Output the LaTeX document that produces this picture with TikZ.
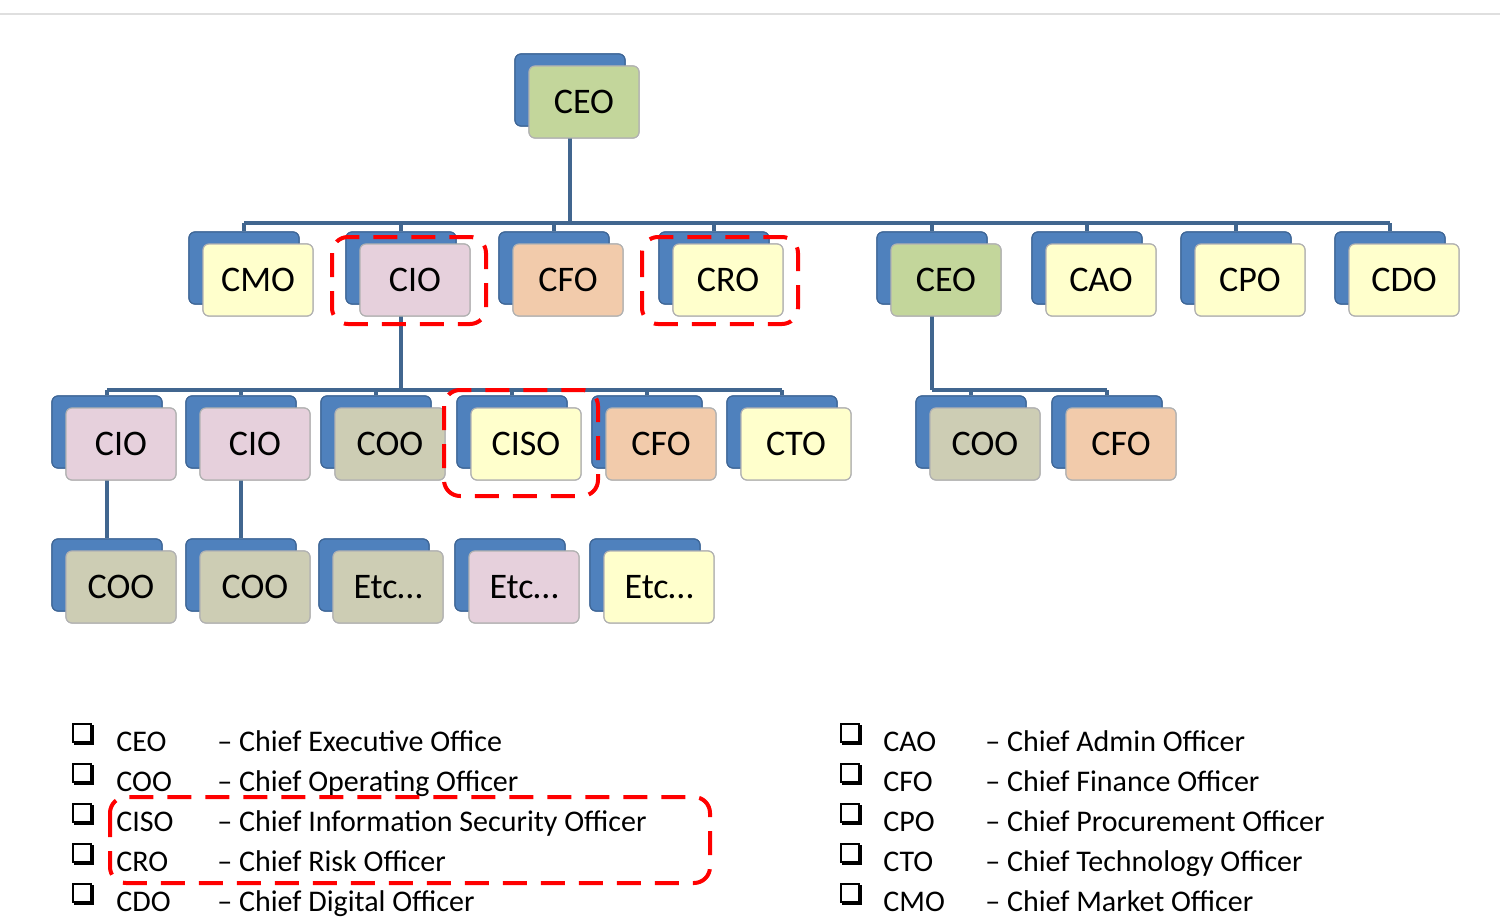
\documentclass[tikz,border=0pt]{standalone}
\usepackage{fontspec}
\setmainfont{Carlito}
\usetikzlibrary{calc,shadows}
\definecolor{bk}{HTML}{4F81BD}
\definecolor{cg}{HTML}{C3D69B}
\definecolor{cp}{HTML}{E6D0DC}
\definecolor{cs}{HTML}{F2CBAB}
\definecolor{cy}{HTML}{FFFFCC}
\definecolor{cc}{HTML}{CDCDB4}
\definecolor{ln}{HTML}{41668F}
\begin{document}
\begin{tikzpicture}[x=0.5pt,y=-0.5pt,
  ob/.style={draw=gray!60,line width=0.6pt,rounded corners=3pt,minimum width=55pt,minimum height=36pt,
    font=\fontsize{18}{20}\selectfont,
    copy shadow={shadow xshift=-7pt,shadow yshift=6pt,fill=bk,draw=bk!80!black}},
  cn/.style={draw=ln,line width=1.6pt},
  red/.style={draw=red,line width=2pt,dash pattern=on 12pt off 7pt,rounded corners=8pt},
  lg/.style={anchor=base west,font=\fontsize{15}{17}\selectfont,inner sep=0pt},
  cb/.style={draw=black,line width=1pt,minimum size=9pt,inner sep=0pt,fill=white,
    copy shadow={shadow xshift=1.2pt,shadow yshift=-1.2pt,fill=black,draw=black}}]
\useasboundingbox (0,0) rectangle (1500,920);
\draw[gray!25,line width=0.6pt] (0,14) -- (1500,14);
% nodes
\node[ob,fill=cg] (ceo) at (584,102) {CEO};
\foreach \n/\x/\t/\c in {a/258/CMO/cy,b/415/CIO/cp,c/568/CFO/cs,d/728/CRO/cy,e/946/CEO/cg,f/1101/CAO/cy,g/1250/CPO/cy,h/1404/CDO/cy}
  \node[ob,fill=\c] (r1\n) at (\x,280) {\t};
\foreach \n/\x/\t/\c in {a/121/CIO/cp,b/255/CIO/cp,c/390/COO/cc,d/526/CISO/cy,e/661/CFO/cs,f/796/CTO/cy,g/985/COO/cc,h/1121/CFO/cs}
  \node[ob,fill=\c] (r2\n) at (\x,444) {\t};
\foreach \n/\x/\t/\c in {a/121/COO/cc,b/255/COO/cc,c/388/Etc…/cc,d/524/Etc…/cp,e/659/Etc…/cy}
  \node[ob,fill=\c] (r3\n) at (\x,587) {\t};
% connectors
\coordinate (bar1) at (0,223);
\coordinate (bar2) at (0,390);
\coordinate (ceoB) at ($(ceo.south)+(-7pt,6pt)$);
\draw[cn] (ceoB) -- (ceoB |- bar1);
\foreach \n in {a,b,c,d,e,f,g,h}{
  \coordinate (t1\n) at ($(r1\n.north)+(-7pt,6pt)$);
  \draw[cn] (t1\n) -- (t1\n |- bar1);}
\draw[cn] (t1a |- bar1) -- (t1h |- bar1);
\coordinate (bB) at ($(r1b.south)+(-7pt,6pt)$);
\draw[cn] (bB) -- (bB |- bar2);
\foreach \n in {a,b,c,d,e,f}{
  \coordinate (t2\n) at ($(r2\n.north)+(-7pt,6pt)$);
  \draw[cn] (t2\n) -- (t2\n |- bar2);}
\draw[cn] (t2a |- bar2) -- (t2f |- bar2);
\coordinate (eB) at ($(r1e.south)+(-7pt,6pt)$);
\draw[cn] (eB) -- (eB |- bar2);
\foreach \n in {g,h}{
  \coordinate (t2\n) at ($(r2\n.north)+(-7pt,6pt)$);
  \draw[cn] (t2\n) -- (t2\n |- bar2);}
\draw[cn] (eB |- bar2) -- (t2h |- bar2);
\foreach \n in {a,b}{
  \coordinate (s2\n) at ($(r2\n.south)+(-7pt,6pt)$);
  \coordinate (t3\n) at ($(r3\n.north)+(-7pt,6pt)$);
  \draw[cn] (s2\n) -- (t3\n);}
% redraw nodes on top of connectors
\node[ob,fill=cg] at (ceo) {CEO};
\foreach \n/\t/\c in {a/CMO/cy,b/CIO/cp,c/CFO/cs,d/CRO/cy,e/CEO/cg,f/CAO/cy,g/CPO/cy,h/CDO/cy}
  \node[ob,fill=\c] at (r1\n) {\t};
\foreach \n/\t/\c in {a/CIO/cp,b/CIO/cp,c/COO/cc,d/CISO/cy,e/CFO/cs,f/CTO/cy,g/COO/cc,h/CFO/cs}
  \node[ob,fill=\c] at (r2\n) {\t};
\foreach \n/\t/\c in {a/COO/cc,b/COO/cc,c/Etc…/cc,d/Etc…/cp,e/Etc…/cy}
  \node[ob,fill=\c] at (r3\n) {\t};
% red highlights
\draw[red] (332,237) rectangle (486,324);
\draw[red] (642,237) rectangle (798,324);
\draw[red] (444,390) rectangle (598,496);
% legend
\foreach \i/\a/\d in {0/CEO/Chief Executive  Office,1/COO/Chief Operating Officer,2/CISO/Chief Information Security Officer,3/CRO/Chief Risk Officer,4/CDO/Chief Digital Officer}{
  \node[cb] (lc\i) at (82,{741+40*\i-8}) {};
  \node[lg] (la\i) at (116,{741+40*\i+10}) {\a};
  \node[lg] (ld\i) at (217,{741+40*\i+10}) {– \d};}
\foreach \i/\a/\d in {0/CAO/Chief Admin Officer,1/CFO/Chief Finance Officer,2/CPO/Chief Procurement Officer,3/CTO/Chief Technology Officer,4/CMO/Chief Market Officer}{
  \node[cb] (rc\i) at (850,{741+40*\i-8}) {};
  \node[lg] (ra\i) at (883,{741+40*\i+10}) {\a};
  \node[lg] (rd\i) at (985,{741+40*\i+10}) {– \d};}
\draw[red] (110,797) rectangle (710,883);
\end{tikzpicture}
\end{document}
